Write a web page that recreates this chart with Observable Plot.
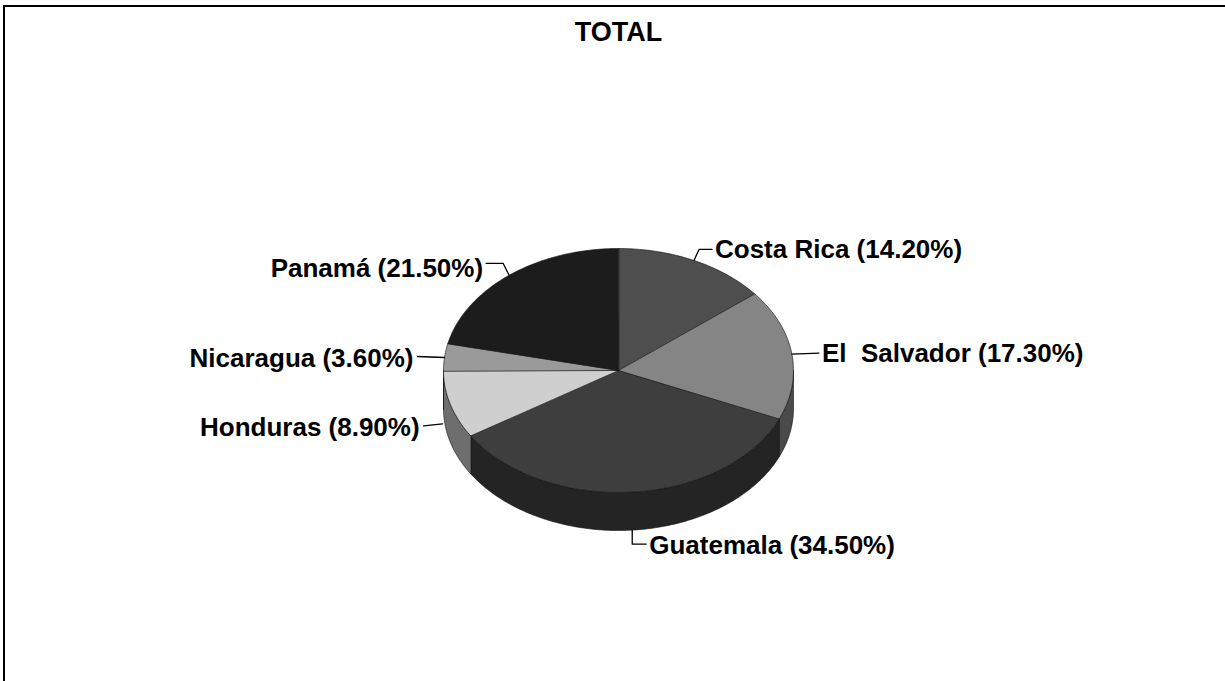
<!DOCTYPE html>
<html>
<head>
<meta charset="utf-8">
<script src="https://cdn.jsdelivr.net/npm/d3@7"></script>
<script src="https://cdn.jsdelivr.net/npm/@observablehq/plot@0.6"></script>
<style>
  html, body { margin: 0; padding: 0; background: #fff; }
  #page { position: relative; width: 1225px; height: 681px; overflow: hidden; }
  #frame { position: absolute; left: 3px; top: 5px; right: 0; bottom: 0;
           border-top: 2px solid #000; border-left: 2px solid #000; pointer-events: none; }
  #title { height: 60px; box-sizing: border-box; padding-top: 17px; padding-left: 12px;
           text-align: center; font: bold 27px "Liberation Sans", Arial, sans-serif; line-height: 30px; }
  #chart svg { display: block; }
</style>
</head>
<body>
<div id="page">
  <div id="frame"></div>
  <div id="title">TOTAL</div>
  <div id="chart"></div>
</div>
<script>
// ---- data ----
const countries = ["Costa Rica", "El  Salvador", "Guatemala", "Honduras", "Nicaragua", "Panamá"];
const shares = [14.2, 17.3, 34.5, 8.9, 3.6, 21.5];
const topFills = ["#4e4e4e", "#858585", "#3e3e3e", "#cfcfcf", "#9a9a9a", "#1c1c1c"];
const sideFills = ["#333333", "#4a4a4a", "#242424", "#6e6e6e", "#5e5e5e", "#111111"];

// ---- layout (pie geometry in page pixels) ----
const cx = 618, cy = 370, rx = 175, ry = 122, depth = 38;
const anchorDrop = [0, 0, 1, 0.5, 0, 0];          // fraction of depth for leader anchor
const leaderPts = [
  [[0, 0], [5, -11], [18, -11]],
  [[0, 0], [27, -1]],
  [[0, 0], [0, 14], [14, 14]],
  [[-8, 0], [-27, 2]],
  [[0, 0], [-27, -1]],
  [[0, 0], [-6, -12], [-23, -12]]
];
const labelOff = [[21, -11], [30, 0], [17, 16], [-31, 4], [-31, 1], [-26, -7]];

const pt = (deg, drop = 0) => {
  const t = deg * Math.PI / 180;
  return [cx + rx * Math.sin(t), cy - ry * Math.cos(t) + drop];
};

const tops = [], sides = [], leaders = [], labels = [];
let acc = 0;
countries.forEach((name, i) => {
  const a0 = acc / 100 * 360, a1 = (acc + shares[i]) / 100 * 360;
  acc += shares[i];
  // top face
  tops.push({key: name, x: cx, y: cy, fill: topFills[i]});
  for (let t = a0; t < a1; t += 1) { const [x, y] = pt(t); tops.push({key: name, x, y, fill: topFills[i]}); }
  { const [x, y] = pt(a1); tops.push({key: name, x, y, fill: topFills[i]}); }
  // front side wall
  const s0 = Math.max(a0, 90), s1 = Math.min(a1, 270);
  if (s1 > s0) {
    const arc = [];
    for (let t = s0; t < s1; t += 1) arc.push(t);
    arc.push(s1);
    arc.forEach(t => { const [x, y] = pt(t); sides.push({key: name, x, y, fill: sideFills[i]}); });
    arc.slice().reverse().forEach(t => { const [x, y] = pt(t, depth); sides.push({key: name, x, y, fill: sideFills[i]}); });
  }
  // leader + label
  const mid = (a0 + a1) / 2;
  const [ax, ay] = pt(mid, depth * anchorDrop[i]);
  leaderPts[i].forEach(([dx, dy]) => leaders.push({key: name, x: ax + dx, y: ay + dy}));
  labels.push({
    text: `${name} (${shares[i].toFixed(2)}%)`,
    x: ax + labelOff[i][0], y: ay + labelOff[i][1],
    side: Math.sin(mid * Math.PI / 180) >= 0 ? "right" : "left"
  });
});

const font = {fontSize: 26, fontWeight: "bold", fontFamily: "'Liberation Sans', Arial, sans-serif", fill: "#000"};

const chart = Plot.plot({
  width: 1225, height: 621,
  marginTop: 0, marginRight: 0, marginBottom: 0, marginLeft: 0,
  x: {domain: [0, 1225], axis: null},
  y: {domain: [60, 681], range: [0, 621], axis: null},
  color: {type: "identity"},
  style: {background: "transparent", overflow: "visible"},
  marks: [
    Plot.line(sides, {x: "x", y: "y", z: "key", fill: "fill", stroke: "#111", strokeWidth: 0.6, curve: "linear-closed"}),
    Plot.line(tops, {x: "x", y: "y", z: "key", fill: "fill", stroke: "#111", strokeWidth: 0.6, curve: "linear-closed"}),
    Plot.line(leaders, {x: "x", y: "y", z: "key", stroke: "#000", strokeWidth: 1.3}),
    Plot.text(labels.filter(d => d.side === "right"), {x: "x", y: "y", text: "text", textAnchor: "start", ...font}),
    Plot.text(labels.filter(d => d.side === "left"), {x: "x", y: "y", text: "text", textAnchor: "end", ...font})
  ]
});
document.getElementById("chart").appendChild(chart);
</script>
</body>
</html>
